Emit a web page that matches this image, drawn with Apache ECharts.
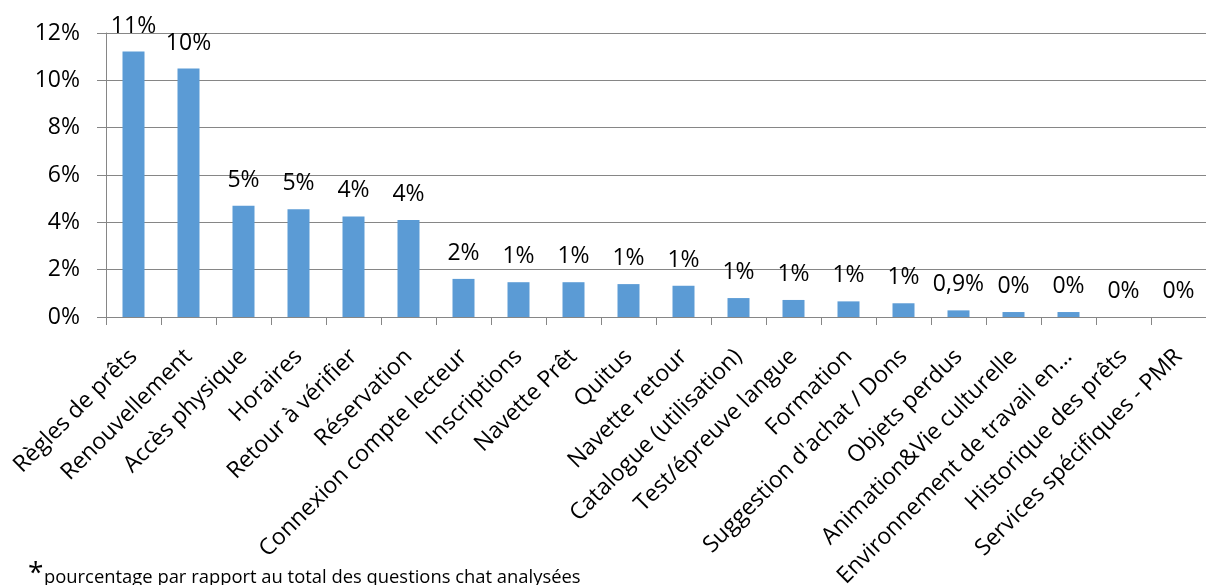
<!DOCTYPE html>
<html>
<head>
<meta charset="utf-8">
<script src="https://cdn.jsdelivr.net/npm/echarts@6/dist/echarts.min.js"></script>
<style>
  html, body { margin: 0; padding: 0; background: #fff; }
  #chart { width: 1206px; height: 585px; }
</style>
</head>
<body>
<div id="chart"></div>
<script>
// catégories de questions chat
var categories = [
  "Règles de prêts", "Renouvellement", "Accès physique", "Horaires",
  "Retour à vérifier", "Réservation", "Connexion compte lecteur", "Inscriptions",
  "Navette Prêt", "Quitus", "Navette retour", "Catalogue (utilisation)",
  "Test/épreuve langue", "Formation", "Suggestion d'achat / Dons", "Objets perdus",
  "Animation&Vie culturelle", "Environnement de travail en...", "Historique des prêts",
  "Services spécifiques - PMR"
];
// pourcentages
var values = [
  11.22, 10.5, 4.7, 4.55, 4.25, 4.1, 1.61, 1.47, 1.47, 1.39,
  1.32, 0.8, 0.72, 0.66, 0.58, 0.28, 0.21, 0.21, 0, 0
];
// étiquettes affichées au-dessus des barres
var valueLabels = [
  "11%", "10%", "5%", "5%", "4%", "4%", "2%", "1%", "1%", "1%",
  "1%", "1%", "1%", "1%", "1%", "0,9%", "0%", "0%", "0%", "0%"
];
var yTicks = { min: 0, max: 12, interval: 2 };
var footnote = "pourcentage par rapport au total des questions chat analysées";

var font = "'Open Sans', 'Noto Sans', sans-serif";
var gray = "#868686";

var myChart = echarts.init(document.getElementById("chart"), null, { renderer: "canvas" });

var option = {
  animation: false,
  textStyle: { fontFamily: font, color: "#000" },
  grid: {
    left: 106, right: 0, top: 33, bottom: 268,
    containLabel: false,
    outerBoundsMode: "none"
  },
  xAxis: {
    type: "category",
    data: categories,
    axisLine: { lineStyle: { color: gray, width: 1 } },
    axisTick: { show: true, length: 8, lineStyle: { color: gray } },
    axisLabel: {
      interval: 0,
      rotate: 45,
      margin: 36,
      fontSize: 23,
      fontFamily: font,
      color: "#000"
    }
  },
  yAxis: {
    type: "value",
    min: yTicks.min,
    max: yTicks.max,
    interval: yTicks.interval,
    axisLine: { show: true, lineStyle: { color: gray, width: 1 } },
    axisTick: { show: true, length: 9, lineStyle: { color: gray } },
    splitLine: { show: true, lineStyle: { color: gray, width: 1 } },
    axisLabel: {
      formatter: "{value}%",
      margin: 26,
      fontSize: 23,
      fontFamily: font,
      color: "#000"
    }
  },
  series: [
    {
      type: "bar",
      data: values,
      barWidth: "40%",
      itemStyle: { color: "#5B9BD5" },
      label: {
        show: true,
        position: "top",
        distance: 14,
        fontSize: 23,
        fontFamily: font,
        color: "#000",
        formatter: function (p) {
          return valueLabels[p.dataIndex];
        }
      }
    }
  ],
  graphic: [
    {
      type: "text",
      left: 28,
      top: 560,
      style: { text: "*", fontSize: 28, fontFamily: font, fill: "#000" }
    },
    {
      type: "text",
      left: 44,
      top: 569,
      style: { text: footnote, fontSize: 18.4, fontFamily: font, fill: "#000" }
    }
  ]
};

myChart.setOption(option);
</script>
</body>
</html>
